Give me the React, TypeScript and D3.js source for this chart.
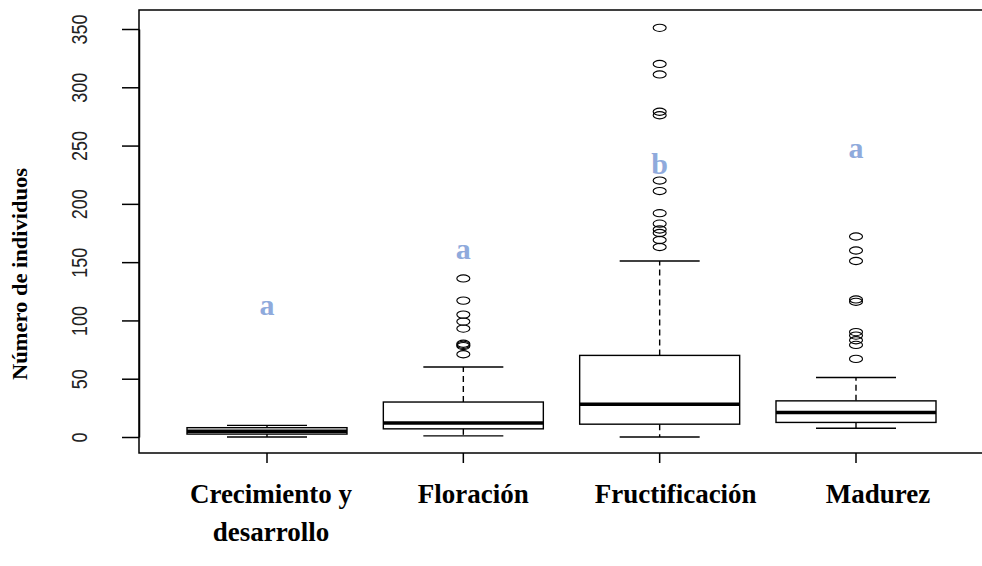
import React, { useRef, useEffect } from 'react';
import * as d3 from 'd3';

// Box plot summary per phenological stage
const categories = ['Crecimiento y desarrollo', 'Floración', 'Fructificación', 'Madurez'];
const labelLines = [['Crecimiento y', 'desarrollo'], ['Floración'], ['Fructificación'], ['Madurez']];
const whiskerLow = [0, 1, 0, 7.5];
const q1 = [2.5, 7, 11, 12.5];
const medians = [5, 12, 28, 21];
const q3 = [8, 30, 70, 31];
const whiskerHigh = [10, 60, 151, 51];
const outliers = [
  [],
  [136, 117, 105, 99, 93, 80, 79, 78, 71],
  [351, 320, 311, 279, 276, 220, 211, 192, 183, 178, 175, 169, 163],
  [172, 160, 151, 118, 116, 90, 87, 83, 79, 67],
];
const letters = ['a', 'a', 'b', 'a'];
const letterValues = [105, 153, 226, 239];
const yTicks = [0, 50, 100, 150, 200, 250, 300, 350];
const yTitle = 'Número de individuos';

export default function App() {
  const d3Container = useRef<SVGSVGElement>(null);

  useEffect(() => {
    if (!d3Container.current) return;
    const svg = d3.select(d3Container.current);
    svg.selectAll('*').remove();

    const frame = { left: 139, right: 988, top: 10, bottom: 453 };
    const boxHalf = 80;
    const capHalf = 40;
    const serif = '"Liberation Serif", "Times New Roman", serif';

    const xScale = d3.scaleLinear().domain([1, 4]).range([267, 856]);
    // the category captions sit a little wider apart than the boxes
    const labelScale = d3.scaleLinear().domain([1, 4]).range([271, 878]);
    const yScale = d3.scaleLinear().domain([0, 350]).range([437, 29]);

    // frame
    svg
      .append('rect')
      .attr('x', frame.left)
      .attr('y', frame.top)
      .attr('width', frame.right - frame.left)
      .attr('height', frame.bottom - frame.top)
      .attr('fill', 'none')
      .attr('stroke', '#000')
      .attr('stroke-width', 1.5);

    // Y axis
    const yAxis = d3.axisLeft(yScale).tickValues(yTicks).tickSize(17).tickSizeOuter(0);
    const yG = svg.append('g').attr('transform', `translate(${frame.left},0)`).call(yAxis);
    yG.select('.domain').attr('stroke-width', 1.5);
    yG.selectAll('.tick line').attr('stroke-width', 1.5);
    yG
      .selectAll('.tick text')
      .attr('x', 0)
      .attr('y', 0)
      .attr('dy', '0.36em')
      .attr('transform', 'translate(-60,0) rotate(-90) scale(1,1.24)')
      .attr('text-anchor', 'middle')
      .attr('font-family', '"Liberation Sans", Arial, sans-serif')
      .attr('font-size', 18)
      .attr('fill', '#222');

    // Y title
    svg
      .append('text')
      .attr('transform', 'translate(27,274) rotate(-90)')
      .attr('text-anchor', 'middle')
      .attr('font-family', serif)
      .attr('font-weight', 'bold')
      .attr('font-size', 20)
      .attr('textLength', 212)
      .attr('lengthAdjust', 'spacingAndGlyphs')
      .text(yTitle);

    const idx = categories.map((_, i) => i);
    const cx = (i: number) => xScale(i + 1);

    // x ticks
    svg
      .selectAll('line.xtick')
      .data(idx)
      .enter()
      .append('line')
      .attr('x1', cx)
      .attr('x2', cx)
      .attr('y1', frame.bottom)
      .attr('y2', frame.bottom + 10)
      .attr('stroke', '#000')
      .attr('stroke-width', 1.5);

    const boxes = svg.selectAll('g.box').data(idx).enter().append('g');

    // whiskers (dashed)
    boxes
      .append('line')
      .attr('x1', cx).attr('x2', cx)
      .attr('y1', i => yScale(q3[i])).attr('y2', i => yScale(whiskerHigh[i]))
      .attr('stroke', '#000').attr('stroke-width', 1.4).attr('stroke-dasharray', '6,4');
    boxes
      .append('line')
      .attr('x1', cx).attr('x2', cx)
      .attr('y1', i => yScale(q1[i])).attr('y2', i => yScale(whiskerLow[i]))
      .attr('stroke', '#000').attr('stroke-width', 1.4).attr('stroke-dasharray', '6,4');

    // caps
    [whiskerHigh, whiskerLow].forEach(arr => {
      boxes
        .append('line')
        .attr('x1', i => cx(i) - capHalf).attr('x2', i => cx(i) + capHalf)
        .attr('y1', i => yScale(arr[i])).attr('y2', i => yScale(arr[i]))
        .attr('stroke', '#000').attr('stroke-width', 1.4);
    });

    // box
    boxes
      .append('rect')
      .attr('x', i => cx(i) - boxHalf)
      .attr('width', boxHalf * 2)
      .attr('y', i => yScale(q3[i]))
      .attr('height', i => yScale(q1[i]) - yScale(q3[i]))
      .attr('fill', '#fff')
      .attr('stroke', '#000')
      .attr('stroke-width', 1.4);

    // median
    boxes
      .append('line')
      .attr('x1', i => cx(i) - boxHalf).attr('x2', i => cx(i) + boxHalf)
      .attr('y1', i => yScale(medians[i])).attr('y2', i => yScale(medians[i]))
      .attr('stroke', '#000').attr('stroke-width', 3.5);

    // outliers
    boxes
      .selectAll('ellipse')
      .data(i => outliers[i].map(v => ({ i, v })))
      .enter()
      .append('ellipse')
      .attr('cx', d => cx(d.i))
      .attr('cy', d => yScale(d.v))
      .attr('rx', 6.5)
      .attr('ry', 3.6)
      .attr('fill', 'none')
      .attr('stroke', '#000')
      .attr('stroke-width', 1.1);

    // significance letters
    boxes
      .append('text')
      .attr('x', cx)
      .attr('y', i => yScale(letterValues[i]))
      .attr('text-anchor', 'middle')
      .attr('font-family', serif)
      .attr('font-weight', 'bold')
      .attr('font-size', 30)
      .attr('fill', '#8faadc')
      .text(i => letters[i]);

    // category labels
    const labels = svg
      .selectAll('text.xlab')
      .data(idx)
      .enter()
      .append('text')
      .attr('text-anchor', 'middle')
      .attr('font-family', serif)
      .attr('font-weight', 'bold')
      .attr('font-size', 27);
    labels
      .selectAll('tspan')
      .data(i => labelLines[i].map((t, k) => ({ i, t, k })))
      .enter()
      .append('tspan')
      .attr('x', d => labelScale(d.i + 1))
      .attr('y', d => 503 + d.k * 38)
      .text(d => d.t);
  }, []);

  return (
    <svg
      ref={d3Container}
      width={982}
      height={566}
      style={{ position: 'absolute', left: 0, top: 0, background: '#fff' }}
    />
  );
}
